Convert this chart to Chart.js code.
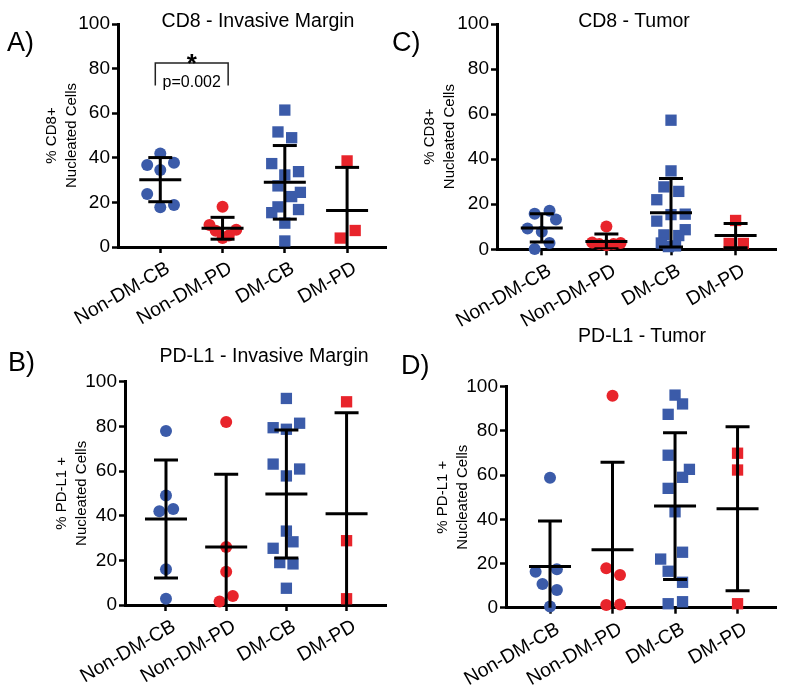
<!DOCTYPE html>
<html>
<head>
<meta charset="utf-8">
<script src="https://cdn.jsdelivr.net/npm/chart.js@4.4.0/dist/chart.umd.min.js"></script>
<style>
  body { margin:0; background:#fff; width:800px; height:699px; position:relative; overflow:hidden; font-family:"Liberation Sans", Arial, sans-serif; }
  canvas { position:absolute; }
  .lbl { position:absolute; line-height:1; color:#000; white-space:nowrap; z-index:2; }
  .letter { font-size:27px; }
  .title { font-size:19.5px; transform:translateX(-50%); }
</style>
</head>
<body>
<canvas id="chartA" width="410" height="345" style="left:0;top:0"></canvas>
<canvas id="chartC" width="400" height="345" style="left:400px;top:0"></canvas>
<canvas id="chartB" width="410" height="354" style="left:0;top:345px"></canvas>
<canvas id="chartD" width="400" height="354" style="left:400px;top:345px"></canvas>

<div class="lbl letter" style="left:7px;top:29px">A)</div>
<div class="lbl letter" style="left:392px;top:29px">C)</div>
<div class="lbl letter" style="left:8px;top:349px">B)</div>
<div class="lbl letter" style="left:401px;top:352px">D)</div>
<div class="lbl title" style="left:258px;top:11px">CD8 - Invasive Margin</div>
<div class="lbl title" style="left:634px;top:11px">CD8 - Tumor</div>
<div class="lbl title" style="left:264px;top:346px">PD-L1 - Invasive Margin</div>
<div class="lbl title" style="left:642px;top:326px">PD-L1 - Tumor</div>

<script>
var groups = ['Non-DM-CB', 'Non-DM-PD', 'DM-CB', 'DM-PD'];
var yTickLabels = [0, 20, 40, 60, 80, 100];
var groupColors = ['#3b5ba9', '#e8242b', '#3b5ba9', '#e8242b'];
var groupShapes = ['circle', 'circle', 'rect', 'rect'];
var FONT = '"Liberation Sans", Arial, sans-serif';

// A) CD8 - Invasive Margin
var cd8MarginVals = [
	[41.9, 36.8, 37.8, 34.5, 23.8, 17.8, 18.8],
	[18.0, 9.9, 7.3, 4.0, 5.2, 7.7],
	[61.4, 51.6, 49.0, 37.4, 33.8, 32.3, 27.4, 24.5, 22.6, 18.0, 15.4, 16.8, 10.7, 2.7],
	[38.6, 7.4, 4.0]
];
var cd8MarginJitter = [
	[0, -0.21, 0.22, 0, -0.21, 0, 0.22],
	[0, -0.21, -0.11, 0, 0.1, 0.22],
	[0, -0.11, 0.11, -0.21, 0.22, 0, -0.11, 0.25, 0.11, -0.11, -0.21, 0.22, 0, 0],
	[0, 0.13, -0.11]
];
var cd8MarginMean = [30.2, 8.4, 29.0, 16.4];
var cd8MarginSD = [9.9, 4.9, 16.5, 19.3];

// significance bracket in A
var bracketX = [0.92, 2.09];
var bracketY = [72.4, 82.5];
var sigStar = '*';
var sigLabel = 'p=0.002';

// C) CD8 - Tumor
var cd8TumorVals = [
	[15.8, 17.1, 13.2, 9.2, 7.8, 2.8, 0.1],
	[10.1, 3.0, 2.3, 1.8, 2.3, 2.8],
	[57.3, 34.8, 27.7, 25.7, 22.0, 15.4, 15.6, 12.5, 8.7, 6.4, 6.1, 2.8, 1.2, 1.5],
	[12.8, 2.6, 2.6]
];
var cd8TumorJitter = [
	[-0.11, 0.12, 0.22, -0.22, 0, 0.12, -0.11],
	[0, -0.22, -0.11, 0, 0.11, 0.22],
	[0, 0, -0.11, 0.12, -0.22, 0, 0.22, -0.22, 0.22, -0.11, 0.12, -0.15, -0.04, 0.07],
	[0, -0.1, 0.12]
];
var cd8TumorMean = [9.5, 3.5, 16.2, 6.1];
var cd8TumorSD = [6.3, 3.3, 15.2, 5.4];

// B) PD-L1 - Invasive Margin
var pdl1MarginVals = [
	[77.9, 49.0, 42.0, 43.0, 16.0, 2.8],
	[82.0, 26.0, 14.9, 4.0, 1.6],
	[92.5, 79.4, 78.7, 81.4, 63.1, 60.9, 57.8, 33.1, 28.3, 25.4, 19.0, 18.4, 7.5],
	[91.0, 28.8, 2.8]
];
var pdl1MarginJitter = [
	[0, 0, -0.11, 0.12, 0, 0],
	[0, 0, 0, 0.11, -0.11],
	[0, -0.22, 0, 0.22, -0.22, 0.22, 0, 0, 0.11, -0.22, -0.11, 0.11, 0],
	[0, 0, 0]
];
var pdl1MarginMean = [38.5, 26.0, 49.7, 40.9];
var pdl1MarginSD = [26.4, 32.5, 28.7, 45.2];

// D) PD-L1 - Tumor
var pdl1TumorVals = [
	[58.8, 16.3, 17.4, 10.7, 8.0, 0.5],
	[95.9, 17.8, 14.8, 1.2, 1.5],
	[96.2, 92.2, 87.5, 69.0, 62.6, 59.0, 54.0, 43.4, 25.1, 22.0, 16.5, 11.5, 1.8, 2.7],
	[69.9, 62.3, 1.8]
];
var pdl1TumorJitter = [
	[0, -0.23, 0.11, -0.12, 0.11, 0],
	[0, -0.1, 0.12, -0.1, 0.12],
	[0, 0.12, -0.11, -0.11, 0.23, 0.12, -0.11, 0, 0.12, -0.23, -0.11, 0.12, -0.11, 0.12],
	[0, 0, 0]
];
var pdl1TumorMean = [18.6, 26.2, 46.0, 44.8];
var pdl1TumorSD = [20.6, 39.6, 33.2, 37.1];


function buildDatasets(values, jitter, means, sds) {
	var stems = [], caps = [], meanPts = [];
	for (var i = 0; i < means.length; i++) {
		var lo = means[i] - sds[i], hi = means[i] + sds[i];
		stems.push({x: i + 1, y: lo}, {x: i + 1, y: hi}, {x: i + 1, y: null});
		caps.push({x: i + 1, y: lo}, {x: i + 1, y: hi});
		meanPts.push({x: i + 1, y: means[i]});
	}
	var sets = [
		{data: stems, showLine: true, spanGaps: false, borderColor: '#000', borderWidth: 3, pointRadius: 0},
		{data: meanPts, pointStyle: 'line', pointRadius: 21, borderColor: '#000', pointBorderColor: '#000', borderWidth: 3, pointBorderWidth: 3, clip: 0},
		{data: caps, pointStyle: 'line', pointRadius: 12, borderColor: '#000', pointBorderColor: '#000', borderWidth: 3, pointBorderWidth: 3, clip: 0}
	];
	for (var g = 0; g < values.length; g++) {
		var pts = [];
		for (var k = 0; k < values[g].length; k++) {
			pts.push({x: g + 1 + jitter[g][k], y: values[g][k]});
		}
		sets.push({
			data: pts,
			pointStyle: groupShapes[g],
			pointRadius: groupShapes[g] == 'rect' ? 8.0 : 6.0,
			backgroundColor: groupColors[g],
			pointBackgroundColor: groupColors[g],
			borderWidth: 0,
			pointBorderWidth: 0,
			clip: false
		});
	}
	return sets;
}

function makePanel(id, p) {
	var datasets = buildDatasets(p.values, p.jitter, p.means, p.sds);
	if (p.extra) datasets = p.extra.concat(datasets);
	var axisGrid = {drawOnChartArea: false, drawTicks: true, tickLength: 6, tickWidth: 2.5, tickColor: '#000'};
	var axisBorder = {display: true, width: 3, color: '#000'};
	var ctx = document.getElementById(id).getContext('2d');
	return new Chart(ctx, {
		type: 'scatter',
		data: {datasets: datasets},
		options: {
			responsive: false,
			animation: false,
			events: [],
			layout: {padding: {top: p.padTop, right: p.padRight, left: 0, bottom: 0}},
			plugins: {legend: {display: false}, tooltip: {enabled: false}},
			scales: {
				x: {
					type: 'linear',
					min: p.xMin,
					max: p.xMax,
					afterBuildTicks: function(ax) {
						ax.ticks = groups.map(function(g, i) { return {value: i + 1}; });
					},
					afterFit: function(ax) { ax.height = p.xHeight; },
					ticks: {
						callback: function(v) { return groups[Math.round(v) - 1]; },
						font: {family: FONT, size: 19.5},
						color: '#000',
						minRotation: 30,
						maxRotation: 30,
						autoSkip: false,
						padding: 4,
						labelOffset: 8
					},
					grid: axisGrid,
					border: axisBorder
				},
				y: {
					min: 0,
					max: 100,
					afterFit: function(ax) { ax.width = p.yWidth; },
					ticks: {
						stepSize: 10,
						callback: function(v) { return yTickLabels.indexOf(v) >= 0 ? String(v) : ''; },
						font: {family: FONT, size: 19},
						color: '#000',
						padding: 2
					},
					grid: axisGrid,
					border: axisBorder,
					title: {
						display: true,
						text: p.yTitle,
						color: '#000',
						font: {family: FONT, size: 15, lineHeight: 1.333},
						padding: {top: p.titlePad, bottom: 0}
					}
				}
			}
		},
		plugins: p.plugins || []
	});
}

var sigPlugin = {
	id: 'sig',
	afterDatasetsDraw: function(chart) {
		var c = chart.ctx, x = chart.scales.x, y = chart.scales.y;
		var cx = x.getPixelForValue((bracketX[0] + bracketX[1]) / 2);
		var top = y.getPixelForValue(bracketY[1]);
		c.save();
		c.fillStyle = '#000';
		c.textAlign = 'center';
		c.textBaseline = 'alphabetic';
		c.font = 'bold 26px ' + FONT;
		c.fillText(sigStar, cx, top + 9);
		c.font = '16px ' + FONT;
		c.fillText(sigLabel, cx, top + 24);
		c.restore();
	}
};

var bracketSet = {
	data: [
		{x: bracketX[0], y: bracketY[0]}, {x: bracketX[0], y: bracketY[1]},
		{x: bracketX[1], y: bracketY[1]}, {x: bracketX[1], y: bracketY[0]}
	],
	showLine: true, borderColor: '#222', borderWidth: 1.5, pointRadius: 0
};

makePanel('chartA', {
	values: cd8MarginVals, jitter: cd8MarginJitter, means: cd8MarginMean, sds: cd8MarginSD,
	yTitle: ['% CD8+', 'Nucleated Cells'], yWidth: 118, titlePad: 42,
	padTop: 17, padRight: 5, xHeight: 98, xMin: 0.321, xMax: 4.625,
	extra: [bracketSet], plugins: [sigPlugin]
});
makePanel('chartC', {
	values: cd8TumorVals, jitter: cd8TumorJitter, means: cd8TumorMean, sds: cd8TumorSD,
	yTitle: ['% CD8+', 'Nucleated Cells'], yWidth: 97, titlePad: 20,
	padTop: 15, padRight: 8, xHeight: 95.7, xMin: 0.307, xMax: 4.625
});
makePanel('chartB', {
	values: pdl1MarginVals, jitter: pdl1MarginJitter, means: pdl1MarginMean, sds: pdl1MarginSD,
	yTitle: ['% PD-L1 +', 'Nucleated Cells'], yWidth: 125, titlePad: 51.7,
	padTop: 36.7, padRight: 5, xHeight: 94, xMin: 0.319, xMax: 4.655
});
makePanel('chartD', {
	values: pdl1TumorVals, jitter: pdl1TumorJitter, means: pdl1TumorMean, sds: pdl1TumorSD,
	yTitle: ['% PD-L1 +', 'Nucleated Cells'], yWidth: 106, titlePad: 33.3,
	padTop: 41.7, padRight: 18, xHeight: 91.3, xMin: 0.296, xMax: 4.615
});
</script>
</body>
</html>
